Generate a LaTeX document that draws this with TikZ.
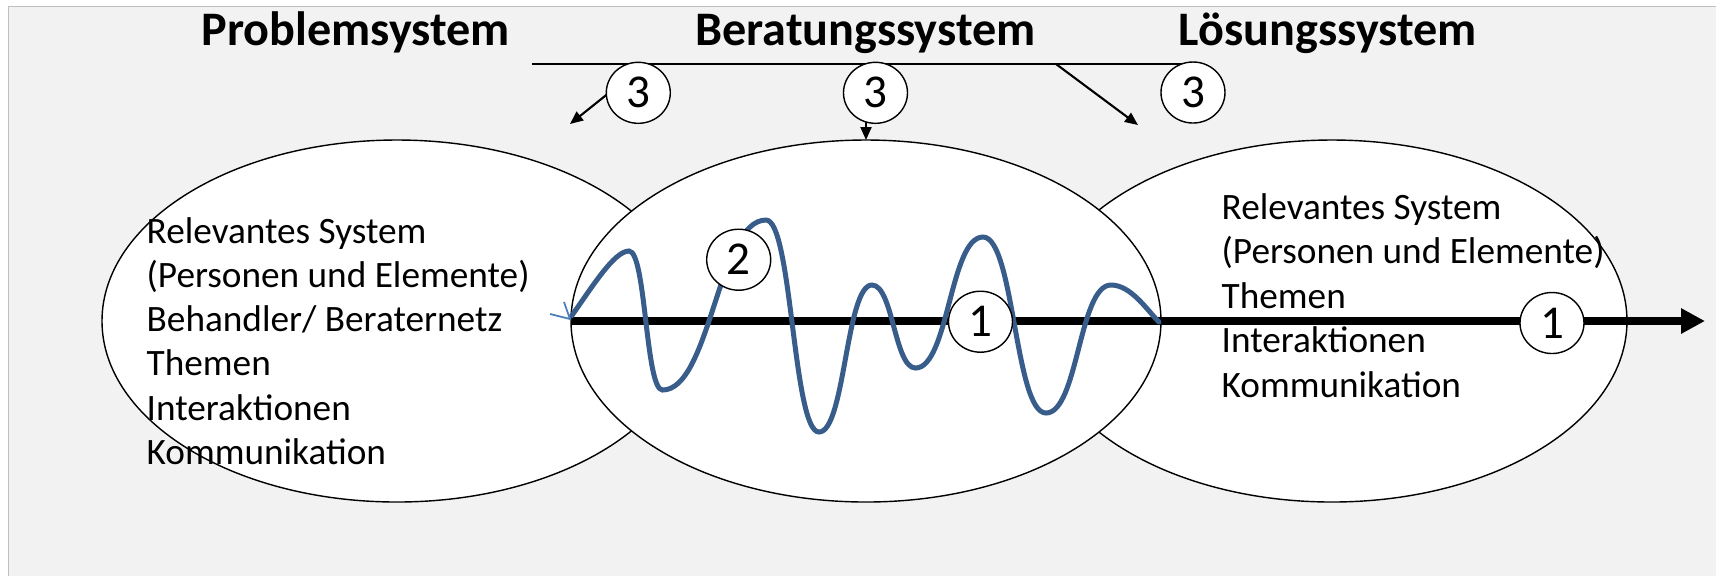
\documentclass[tikz,border=0pt]{standalone}
\usepackage{fontspec}
\setmainfont{Carlito}
\usetikzlibrary{shapes.geometric,arrows.meta}
\definecolor{bggray}{HTML}{F2F2F2}
\definecolor{framegray}{HTML}{BFBFBF}
\definecolor{wavecol}{HTML}{385D8A}
\definecolor{tickcol}{HTML}{4A7EBB}

\begin{document}
\begin{tikzpicture}[
    sysell/.style={draw, ellipse, fill=white, line width=0.4pt, inner sep=0pt, outer sep=0pt, minimum width=5.9cm, minimum height=3.62cm},
    numcirc/.style={draw, ellipse, fill=white, line width=0.4pt, inner sep=0pt, minimum width=0.64cm, minimum height=0.61cm, font=\fontsize{13.4}{15}\selectfont},
    systitle/.style={anchor=base, inner sep=0pt, font=\fontsize{13.7}{16}\selectfont\bfseries},
    systext/.style={anchor=base west, inner sep=0pt, font=\fontsize{10.6}{12.7}\selectfont},
    feedarrow/.style={-{Triangle[length=0.13cm, width=0.11cm]}, line width=0.6pt}
]
    % Background
    \useasboundingbox (0,0) rectangle (17.16,-5.76);
    \fill[bggray] (0.085,-0.067) rectangle (17.16,-5.76);
    \draw[framegray, line width=0.4pt] (0.085,-5.76) -- (0.085,-0.067) -- (17.16,-0.067);

    % Problem-, Loesungs- and Beratungssystem
    \node[sysell] (psys) at (3.97,-3.21) {};
    \node[sysell] (lsys) at (13.32,-3.21) {};
    \node[sysell] (bsys) at (8.66,-3.21) {};

    % Titles
    \node[systitle] (ptitle) at (3.56,-0.45) {Problemsystem};
    \node[systitle] (btitle) at (8.655,-0.45) {Beratungssystem};
    \node[systitle] (ltitle) at (13.275,-0.45) {Lösungssystem};

    % Feedback line
    \coordinate (fbl) at (5.32,-0.64);
    \coordinate (fbr) at (11.93,-0.64);
    \draw[line width=0.6pt] (fbl) -- (fbr);
    \coordinate (fbp) at (6.45,-0.64);
    \coordinate (fbb) at (8.66,-0.64);
    \coordinate (fbq) at (10.56,-0.64);
    \coordinate (fbpend) at (5.70,-1.24);
    \coordinate (fbqend) at (11.38,-1.25);
    \draw[feedarrow] (fbp) -- (fbpend);
    \draw[feedarrow] (fbb) -- (bsys.north);
    \draw[feedarrow] (fbq) -- (fbqend);

    % Main arrow
    \coordinate (goal) at (17.05,-3.21);
    \draw[line width=0.075cm, -{Triangle[length=0.24cm, width=0.24cm]}] (bsys.west) -- (goal);

    % Wave
    \draw[wavecol, line width=0.05cm, line cap=round] (5.715,-3.16)
        .. controls +(0.2,0.28) and +(-0.15,0) .. (6.29,-2.51)
        .. controls +(0.17,0) and +(-0.17,0) .. (6.625,-3.90)
        .. controls +(0.48,0) and +(-0.48,0) .. (7.66,-2.20)
        .. controls +(0.26,0) and +(-0.26,0) .. (8.19,-4.32)
        .. controls +(0.26,0) and +(-0.26,0) .. (8.72,-2.85)
        .. controls +(0.21,0) and +(-0.21,0) .. (9.155,-3.68)
        .. controls +(0.33,0) and +(-0.33,0) .. (9.83,-2.37)
        .. controls +(0.31,0) and +(-0.31,0) .. (10.46,-4.13)
        .. controls +(0.32,0) and +(-0.32,0) .. (11.11,-2.85)
        .. controls +(0.2,0) and +(-0.12,0.12) .. (11.59,-3.22);
    \draw[tickcol, line width=0.5pt] (5.64,-3.02) -- (5.70,-3.19) -- (5.50,-3.14);

    % Markers
    \node[numcirc] (m3a) at (6.383,-0.928) {3};
    \node[numcirc] (m3b) at (8.755,-0.928) {3};
    \node[numcirc] (m3c) at (11.93,-0.925) {3};
    \node[numcirc] (m2) at (7.387,-2.597) {2};
    \node[numcirc] (m1a) at (9.805,-3.217) {1};
    \node[numcirc] (m1b) at (15.52,-3.23) {1};

    % Texts
    \foreach \ln [count=\i] in {Relevantes System, {(Personen und Elemente)}, {Behandler/ Beraternetz}, Themen, Interaktionen, Kommunikation}
        \node[systext] (ptxt\i) at (1.46,{-2.43-0.443*(\i-1)}) {\ln};
    \foreach \ln [count=\i] in {Relevantes System, {(Personen und Elemente)}, Themen, Interaktionen, Kommunikation}
        \node[systext] (ltxt\i) at (12.21,{-2.19-0.445*(\i-1)}) {\ln};
\end{tikzpicture}
\end{document}
